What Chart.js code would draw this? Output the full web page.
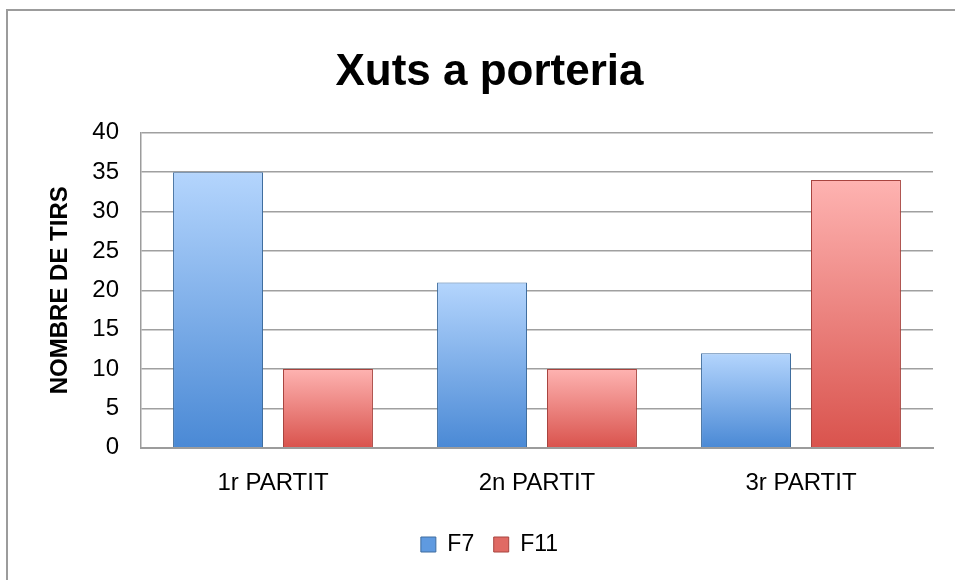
<!DOCTYPE html>
<html lang="ca">

<head>
    <meta charset="UTF-8">
    <title>Xuts a porteria</title>
    <script src="https://cdn.jsdelivr.net/npm/chart.js"></script>
    <style>
        body { margin: 0; overflow: hidden; background: #fff; }
        #frame {
            position: absolute; left: 6px; top: 9px;
            width: 1000px; height: 1000px;
            border: 2px solid #9c9c9c;
        }
        #wrap { position: absolute; left: 0; top: 0; width: 955px; height: 580px; }
    </style>
</head>

<body>
    <div id="frame"></div>
    <div id="wrap">
        <canvas id="myChart"></canvas>
    </div>
</body>

<script>

    const categories = ['1r PARTIT', '2n PARTIT', '3r PARTIT']
    const f7 = [35, 21, 12]
    const f11 = [10, 10, 34]
    const yTicks = [0, 5, 10, 15, 20, 25, 30, 35, 40]

    const font = 'Liberation Sans, Arial, sans-serif'

    // vertical gradient for each bar, light on top and darker at the base
    function barFill(top, bottom) {
        return (ctx) => {
            const chart = ctx.chart
            if (!chart.chartArea || ctx.raw === undefined) return bottom
            const y = chart.scales.y
            const g = chart.ctx.createLinearGradient(0, y.getPixelForValue(ctx.raw), 0, y.getPixelForValue(0))
            g.addColorStop(0, top)
            g.addColorStop(1, bottom)
            return g
        }
    }

    const chart = new Chart(
        document.getElementById('myChart'),
        {
            type: 'bar',
            data: {
                labels: categories,
                datasets: [{
                    label: 'F7',
                    data: f7,
                    backgroundColor: barFill('#b4d5fd', '#4a89d5'),
                    borderColor: '#3f6d9f',
                    borderWidth: 1,
                    categoryPercentage: 0.833,
                    barPercentage: 0.818
                }, {
                    label: 'F11',
                    data: f11,
                    backgroundColor: barFill('#feb3b1', '#d9534d'),
                    borderColor: '#a8443f',
                    borderWidth: 1,
                    categoryPercentage: 0.833,
                    barPercentage: 0.818
                }]
            },
            options: {
                responsive: true,
                maintainAspectRatio: false,
                animation: false,
                layout: { padding: { top: 40, left: 46, right: 22, bottom: 14 } },
                plugins: {
                    title: {
                        display: true,
                        text: 'Xuts a porteria',
                        color: '#000',
                        font: { family: font, size: 44, weight: 'bold' },
                        padding: { top: 6, bottom: 34 }
                    },
                    legend: {
                        position: 'bottom',
                        labels: {
                            color: '#000',
                            font: { family: font, size: 23 },
                            boxWidth: 15,
                            boxHeight: 15,
                            padding: 19.5,
                            generateLabels: (c) => c.data.datasets.map((d, i) => ({
                                text: d.label,
                                fillStyle: i === 0 ? '#5f9ae0' : '#e06a64',
                                strokeStyle: i === 0 ? '#3f6d9f' : '#a8443f',
                                lineWidth: 1,
                                datasetIndex: i
                            }))
                        }
                    },
                    tooltip: { enabled: false }
                },
                scales: {
                    x: {
                        afterFit: (s) => { s.height += 3 },
                        grid: { display: false },
                        border: { color: '#9c9c9c', width: 2 },
                        ticks: { color: '#000', font: { family: font, size: 24 }, padding: 13 }
                    },
                    y: {
                        min: 0,
                        max: 40,
                        afterBuildTicks: (s) => { s.ticks = yTicks.map(v => ({ value: v })) },
                        afterFit: (s) => { s.width = 95 },
                        grid: { color: '#a0a0a0', lineWidth: 1.5, drawTicks: false },
                        border: { color: '#9c9c9c', width: 1.5 },
                        ticks: { color: '#000', font: { family: font, size: 24 }, padding: 22 },
                        title: {
                            display: true,
                            text: 'NOMBRE DE TIRS',
                            color: '#000',
                            font: { family: font, size: 24, weight: 'bold' },
                            padding: { top: 0, bottom: 0 }
                        }
                    }
                }
            }
        });

</script>

</html>
